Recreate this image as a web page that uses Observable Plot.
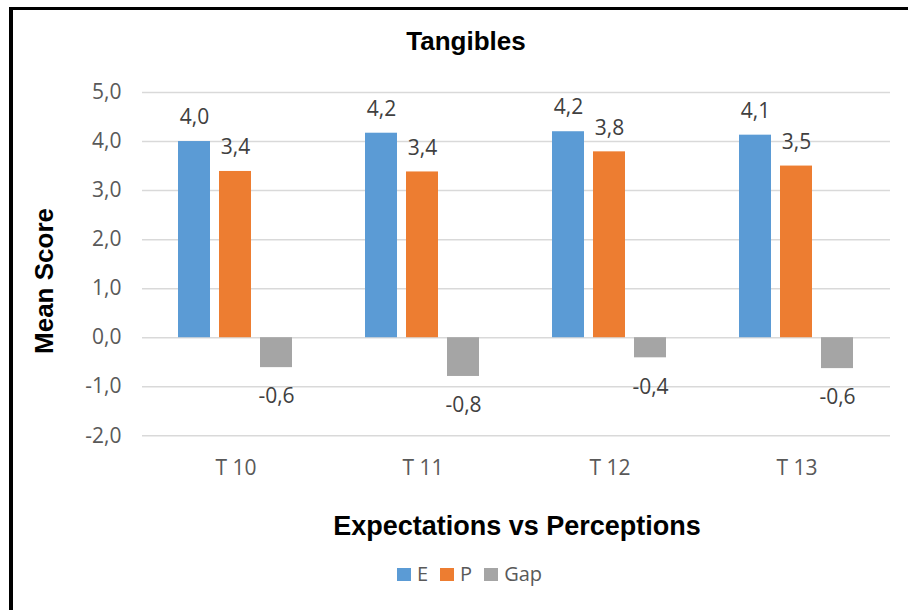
<!DOCTYPE html>
<html>
<head>
<meta charset="utf-8">
<script src="https://cdn.jsdelivr.net/npm/d3@7"></script>
<script src="https://cdn.jsdelivr.net/npm/@observablehq/plot@0.6"></script>
<style>
  body { margin: 0; background: #fff; }
  #chart { position: relative; width: 908px; height: 610px; overflow: hidden; background: #fff; font-family: "Open Sans", sans-serif; }
  #frame { position: absolute; left: 9px; top: 7px; width: 1000px; height: 1000px; border-left: 4px solid #000; border-top: 3px solid #000; }
  #title { position: absolute; left: 10px; width: 912px; top: 26px; line-height: 30px; text-align: center; font: bold 26px "Liberation Sans", Arial, sans-serif; color: #000; }
  #plot { position: absolute; left: 0; top: 60px; }
  #xtitle { position: absolute; left: 142px; width: 750px; top: 510.5px; line-height: 30px; text-align: center; font: bold 27px "Liberation Sans", Arial, sans-serif; color: #000; }
  #ytitle { position: absolute; left: -56px; top: 265.5px; width: 200px; height: 30px; line-height: 30px; text-align: center; font: bold 26px "Liberation Sans", Arial, sans-serif; color: #000; transform: rotate(-90deg); }
  #legend { position: absolute; left: 0; width: 939px; top: 562px; height: 24px; display: flex; justify-content: center; align-items: center; font: 20px "Open Sans", sans-serif; color: #595959; line-height: 24px; }
  .item { display: flex; align-items: center; margin: 0 6px; }
  .swatch { width: 14px; height: 13px; margin-right: 6px; }
</style>
</head>
<body>
<div id="chart">
  <div id="frame"></div>
  <div id="title">Tangibles</div>
  <div id="plot"></div>
  <div id="ytitle">Mean Score</div>
  <div id="xtitle">Expectations vs Perceptions</div>
  <div id="legend"></div>
</div>
<script>
// Service-quality items (tangibles dimension)
const items = ["T 10", "T 11", "T 12", "T 13"];
const series = ["E", "P", "Gap"];
// Mean scores per item
const expectations = [4.00, 4.17, 4.20, 4.13];
const perceptions = [3.39, 3.38, 3.79, 3.50];
const gaps = [-0.61, -0.79, -0.41, -0.63];
const yTicks = [-2, -1, 0, 1, 2, 3, 4, 5];
const colors = ["#5B9BD5", "#ED7D31", "#A5A5A5"];

const fmt = v => v.toFixed(1).replace(".", ",");

const rows = items.flatMap((item, i) => [
  {item, series: "E", value: expectations[i]},
  {item, series: "P", value: perceptions[i]},
  {item, series: "Gap", value: gaps[i]}
]);

const labelOpts = {fx: "item", x: "series", y: "value", text: d => fmt(d.value), fill: "#404040", fontSize: 21};

const chart = Plot.plot({
  width: 908,
  height: 440,
  marginTop: 32,
  marginBottom: 64.7,
  marginLeft: 142,
  marginRight: 18,
  style: {fontFamily: "'Open Sans', sans-serif", fontSize: "21px", color: "#595959", background: "transparent", overflow: "visible"},
  fx: {domain: items, padding: 0, label: null, axis: "bottom", tickSize: 0, tickPadding: 24},
  x: {domain: series, paddingInner: 0.21, paddingOuter: 0.87, axis: null},
  y: {domain: [-2, 5], ticks: yTicks, tickFormat: fmt, tickSize: 0, tickPadding: 21, label: null},
  color: {domain: series, range: colors},
  marks: [
    Plot.ruleY(yTicks, {stroke: "#d9d9d9", strokeWidth: 1.5}),
    Plot.barY(rows, {fx: "item", x: "series", y: "value", fill: "series"}),
    Plot.text(rows.filter(d => d.value >= 0), {...labelOpts, dy: -24}),
    Plot.text(rows.filter(d => d.value < 0), {...labelOpts, dy: 29})
  ]
});
document.getElementById("plot").appendChild(chart);

// Legend
const legend = document.getElementById("legend");
series.forEach((s, i) => {
  const item = document.createElement("div");
  item.className = "item";
  const sw = document.createElement("span");
  sw.className = "swatch";
  sw.style.background = colors[i];
  const label = document.createElement("span");
  label.textContent = s;
  item.appendChild(sw);
  item.appendChild(label);
  legend.appendChild(item);
});
</script>
</body>
</html>
